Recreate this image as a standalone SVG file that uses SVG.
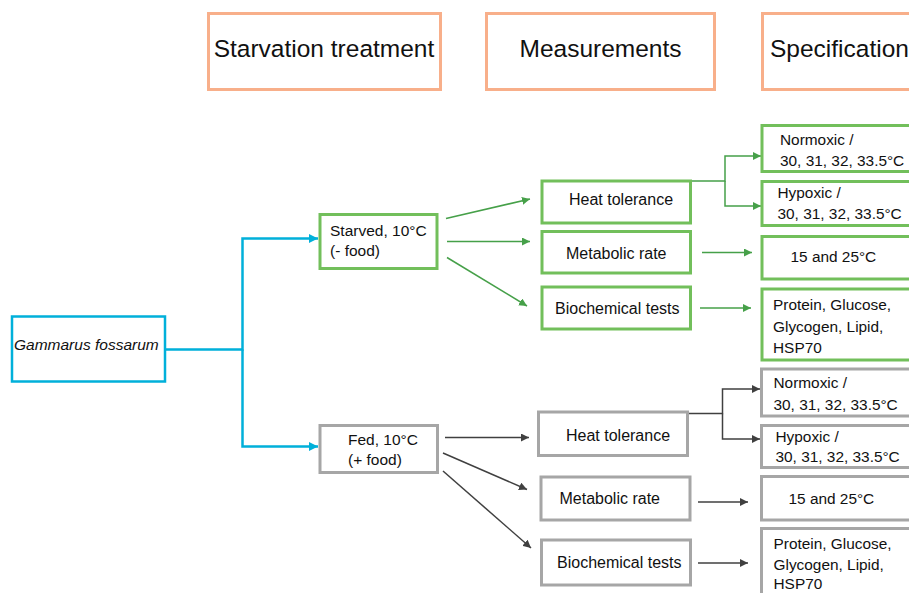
<svg xmlns="http://www.w3.org/2000/svg" width="909" height="593" viewBox="0 0 909 593">
<defs>
<style>
text{font-family:"Liberation Sans",Arial,sans-serif;fill:#111;}
.hdr{font-size:24.5px;}
.t{font-size:15.5px;}
.m{font-size:16px;}
.s{font-size:15.4px;}
.hbox{fill:#fff;stroke:#F8AF8A;stroke-width:3;}
.bbox{fill:#fff;stroke:#00B0DA;stroke-width:2.5;}
.gbox{fill:#fff;stroke:#72BF5B;stroke-width:3;}
.ybox{fill:#fff;stroke:#A6A6A6;stroke-width:3;}
.blue{fill:none;stroke:#00B0DA;stroke-width:2.5;}
.gl{fill:none;stroke:#46A049;stroke-width:1.5;}
.kl{fill:none;stroke:#404040;stroke-width:1.5;}
</style>
<marker id="ab" viewBox="0 0 10 10" refX="10" refY="5" markerWidth="9" markerHeight="9" markerUnits="userSpaceOnUse" orient="auto"><path d="M0,0L10,5L0,10z" fill="#00B0DA"/></marker>
<marker id="ag" viewBox="0 0 10 10" refX="10" refY="5" markerWidth="8" markerHeight="8" markerUnits="userSpaceOnUse" orient="auto"><path d="M0,0L10,5L0,10z" fill="#46A049"/></marker>
<marker id="ak" viewBox="0 0 10 10" refX="10" refY="5" markerWidth="8" markerHeight="8" markerUnits="userSpaceOnUse" orient="auto"><path d="M0,0L10,5L0,10z" fill="#404040"/></marker>
</defs>

<g id="connectors">
<path class="blue" d="M165,349.5H242.5V238.5H318" marker-end="url(#ab)"/>
<path class="blue" d="M242.5,349.5V446.5H318" marker-end="url(#ab)"/>
<path class="gl" d="M446,218.5L530,199" marker-end="url(#ag)"/>
<path class="gl" d="M447,241.5H530" marker-end="url(#ag)"/>
<path class="gl" d="M447,257.5L527,306" marker-end="url(#ag)"/>
<path class="gl" d="M690,181H725V156H761" marker-end="url(#ag)"/>
<path class="gl" d="M725,181V206H761" marker-end="url(#ag)"/>
<path class="gl" d="M702,252.5H752" marker-end="url(#ag)"/>
<path class="gl" d="M700,308H751" marker-end="url(#ag)"/>
<path class="kl" d="M445,437.5H529" marker-end="url(#ak)"/>
<path class="kl" d="M443,453L527,489.5" marker-end="url(#ak)"/>
<path class="kl" d="M443,471L531,548" marker-end="url(#ak)"/>
<path class="kl" d="M687,413.5H722.5V389H760" marker-end="url(#ak)"/>
<path class="kl" d="M722.5,413.5V439H760" marker-end="url(#ak)"/>
<path class="kl" d="M698,502H748" marker-end="url(#ak)"/>
<path class="kl" d="M698,563H748" marker-end="url(#ak)"/>
</g>

<g id="hdr-starvation"><rect class="hbox" x="208.5" y="13.5" width="232" height="76"/><text class="hdr" x="324" y="57" text-anchor="middle">Starvation treatment</text></g>
<g id="hdr-measurements"><rect class="hbox" x="486.5" y="13.5" width="228" height="76"/><text class="hdr" x="600.5" y="57" text-anchor="middle">Measurements</text></g>
<g id="hdr-specification"><rect class="hbox" x="762.5" y="13.5" width="160" height="76"/><text class="hdr" x="770" y="57">Specification</text></g>

<g id="gammarus"><rect class="bbox" x="12" y="316.5" width="153" height="65"/><text class="t" x="14" y="349.5" font-style="italic" font-size="15.7">Gammarus fossarum</text></g>

<g id="starved"><rect class="gbox" x="320" y="214.5" width="117" height="54"/><text class="t"><tspan x="330" y="236">Starved, 10°C</tspan><tspan x="330" y="256">(- food)</tspan></text></g>
<g id="fed"><rect class="ybox" x="320" y="425.5" width="117.5" height="47"/><text class="t"><tspan x="348" y="445">Fed, 10°C</tspan><tspan x="348" y="465">(+ food)</tspan></text></g>

<g id="g-heat"><rect class="gbox" x="542" y="181" width="148.5" height="42"/><text class="m" x="569" y="205">Heat tolerance</text></g>
<g id="g-metab"><rect class="gbox" x="542" y="231.5" width="148.5" height="41.5"/><text class="m" x="566" y="258.5">Metabolic rate</text></g>
<g id="g-bio"><rect class="gbox" x="542" y="287" width="148.5" height="42"/><text class="m" x="555" y="313.5">Biochemical tests</text></g>

<g id="g-normoxic"><rect class="gbox" x="762" y="125.5" width="160" height="46"/><text class="s"><tspan x="780" y="145">Normoxic /</tspan><tspan x="780" y="165.5">30, 31, 32, 33.5°C</tspan></text></g>
<g id="g-hypoxic"><rect class="gbox" x="762" y="181.5" width="160" height="44"/><text class="s"><tspan x="777.5" y="197.5">Hypoxic /</tspan><tspan x="777.5" y="218.5">30, 31, 32, 33.5°C</tspan></text></g>
<g id="g-temp"><rect class="gbox" x="762" y="236.5" width="160" height="42.5"/><text class="s" x="790.5" y="262">15 and 25°C</text></g>
<g id="g-protein"><rect class="gbox" x="762" y="289" width="160" height="71"/><text class="s"><tspan x="773" y="310">Protein, Glucose,</tspan><tspan x="773" y="331.5">Glycogen, Lipid,</tspan><tspan x="773" y="352.5">HSP70</tspan></text></g>

<g id="f-heat"><rect class="ybox" x="538.5" y="412" width="149" height="43.5"/><text class="m" x="566" y="441">Heat tolerance</text></g>
<g id="f-metab"><rect class="ybox" x="541" y="477" width="149" height="43"/><text class="m" x="559.5" y="504">Metabolic rate</text></g>
<g id="f-bio"><rect class="ybox" x="541.5" y="540" width="149" height="45"/><text class="m" x="557" y="568">Biochemical tests</text></g>

<g id="f-normoxic"><rect class="ybox" x="761.5" y="369" width="160" height="47"/><text class="s"><tspan x="773.5" y="388">Normoxic /</tspan><tspan x="773.5" y="409.5">30, 31, 32, 33.5°C</tspan></text></g>
<g id="f-hypoxic"><rect class="ybox" x="761.5" y="425.5" width="160" height="42"/><text class="s"><tspan x="775.5" y="442">Hypoxic /</tspan><tspan x="775.5" y="462">30, 31, 32, 33.5°C</tspan></text></g>
<g id="f-temp"><rect class="ybox" x="761.5" y="476.5" width="160" height="43.5"/><text class="s" x="788.5" y="503.5">15 and 25°C</text></g>
<g id="f-protein"><rect class="ybox" x="761.5" y="528.5" width="160" height="80"/><text class="s"><tspan x="773.5" y="548.5">Protein, Glucose,</tspan><tspan x="773.5" y="569.5">Glycogen, Lipid,</tspan><tspan x="773.5" y="589">HSP70</tspan></text></g>
</svg>
